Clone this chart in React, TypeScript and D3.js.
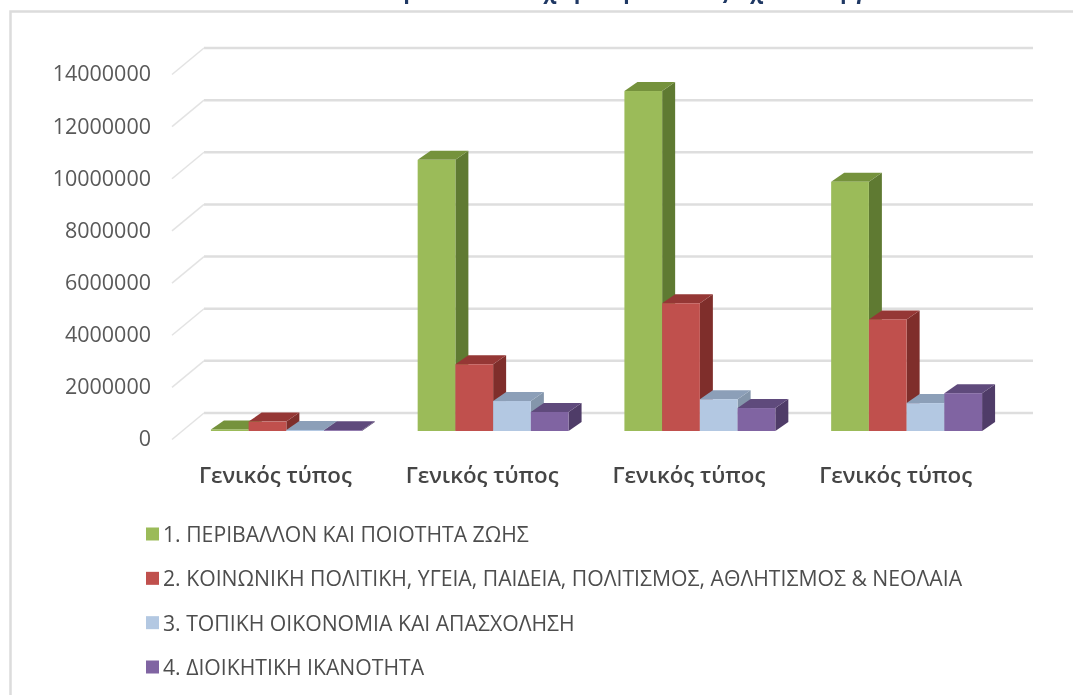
import React, { useEffect, useRef } from 'react';
import * as d3 from 'd3';

// values
const categories = ['Γενικός τύπος ', 'Γενικός τύπος  ', 'Γενικός τύπος   ', 'Γενικός τύπος    '];
const seriesNames = [
  '1. ΠΕΡΙΒΑΛΛΟΝ ΚΑΙ ΠΟΙΟΤΗΤΑ ΖΩΗΣ',
  '2. ΚΟΙΝΩΝΙΚΗ ΠΟΛΙΤΙΚΗ, ΥΓΕΙΑ, ΠΑΙΔΕΙΑ, ΠΟΛΙΤΙΣΜΟΣ, ΑΘΛΗΤΙΣΜΟΣ & ΝΕΟΛΑΙΑ',
  '3. ΤΟΠΙΚΗ ΟΙΚΟΝΟΜΙΑ ΚΑΙ ΑΠΑΣΧΟΛΗΣΗ',
  '4. ΔΙΟΙΚΗΤΙΚΗ ΙΚΑΝΟΤΗΤΑ',
];
const environment = [60000, 10400000, 13040000, 9560000];
const social = [360000, 2560000, 4900000, 4280000];
const economy = [40000, 1150000, 1220000, 1070000];
const admin = [30000, 730000, 880000, 1450000];
const seriesValues = [environment, social, economy, admin];
const yTicks = [0, 2000000, 4000000, 6000000, 8000000, 10000000, 12000000, 14000000];

const frontColors = ['#9bbb59', '#c0504d', '#b3c8e2', '#8064a2'];
const topColors = ['#75923c', '#953735', '#8c9fb8', '#5f4a7c'];
const sideColors = ['#5f7a32', '#7f2e2b', '#8496ab', '#4f3c68'];

// only the bottom of the title is in the picture, the words above it are a guess
const title = 'Πρόσοδοι των χωρών μετά τους 4 χιλίων έργων';
const font = '"Open Sans", "Noto Sans", sans-serif';

const App = () => {
  const ref = useRef<SVGSVGElement>(null);

  useEffect(() => {
    const svg = d3.select(ref.current)
      .attr('width', 1073)
      .attr('height', 695)
      .style('position', 'absolute')
      .style('left', 0)
      .style('top', 0)
      .style('background-color', '#fff')
      .style('filter', 'blur(0.5px)');
    svg.selectAll('*').remove();

    // back wall scale
    const yScale = d3.scaleLinear().domain([0, 14000000]).range([413, 48]);
    const xScale = d3.scaleBand<string>()
      .domain(categories)
      .range([183, 1010])
      .paddingInner(0.27)
      .paddingOuter(0.135);
    const barScale = d3.scaleBand<number>()
      .domain([0, 1, 2, 3])
      .range([0, xScale.bandwidth()]);

    // outer frame
    svg.append('path')
      .attr('d', 'M10.5,695V11.5H1073')
      .attr('fill', 'none')
      .attr('stroke', '#dcdcdc')
      .attr('stroke-width', 2.5);

    // title, cut by the top of the picture
    svg.append('text')
      .attr('x', 388)
      .attr('y', -1)
      .attr('font-family', font)
      .attr('font-size', 21)
      .attr('font-weight', 700)
      .attr('fill', '#1f3864')
      .text(title);

    // grid lines with the floor/wall diagonal
    const wallDx = -32;
    const wallDy = 26.5;
    const grid = svg.append('g');
    grid.selectAll('.grid')
      .data(yTicks)
      .enter()
      .append('path')
      .attr('fill', 'none')
      .attr('stroke', '#dedede')
      .attr('stroke-width', 2.5)
      .attr('d', d => `M204,${yScale(d)}H1033`);
    grid.selectAll('.diag')
      .data(yTicks)
      .enter()
      .append('path')
      .attr('fill', 'none')
      .attr('stroke', '#e3e3e3')
      .attr('stroke-width', 1.5)
      .attr('d', d => `M204,${yScale(d)}L${204 + wallDx},${yScale(d) + wallDy}`);

    // y axis labels
    const axis = svg.append('g')
      .attr('transform', 'translate(151,26)')
      .call(d3.axisLeft(yScale).tickValues(yTicks).tickSize(0).tickPadding(0).tickFormat(d3.format('d')));
    axis.select('.domain').remove();
    axis.selectAll('text')
      .attr('font-family', font)
      .attr('font-size', 21.5)
      .attr('fill', '#595959');

    // 3d bars, the front plane sits 18px below the back wall
    const frontDy = 18;
    const depthX = 13;
    const depthY = 9;
    seriesValues.forEach((values, s) => {
      const bars = svg.append('g');
      values.forEach((v, i) => {
        const x0 = xScale(categories[i])! + barScale(s)!;
        const x1 = x0 + barScale.bandwidth();
        const yBase = yScale(0) + frontDy;
        const yTop = yScale(v) + frontDy;
        bars.append('path').attr('fill', sideColors[s])
          .attr('d', `M${x1},${yTop}L${x1 + depthX},${yTop - depthY}V${yBase - depthY}L${x1},${yBase}Z`);
        bars.append('path').attr('fill', topColors[s])
          .attr('d', `M${x0},${yTop}L${x0 + depthX},${yTop - depthY}H${x1 + depthX}L${x1},${yTop}Z`);
        bars.append('rect').attr('fill', frontColors[s])
          .attr('x', x0).attr('y', yTop)
          .attr('width', barScale.bandwidth()).attr('height', yBase - yTop);
      });
    });

    // category labels
    svg.selectAll('.cat')
      .data(categories)
      .enter()
      .append('text')
      .attr('x', d => xScale(d)! + xScale.bandwidth() / 2 - 11)
      .attr('y', 483)
      .attr('text-anchor', 'middle')
      .attr('font-family', font)
      .attr('font-size', 22.3)
      .attr('font-weight', 600)
      .attr('fill', '#454545')
      .text(d => d.trim());

    // legend
    const legendY = d3.scalePoint<string>().domain(seriesNames).range([534, 667]);
    const legend = svg.selectAll('.legend')
      .data(seriesNames)
      .enter()
      .append('g')
      .attr('transform', d => `translate(146,${legendY(d)})`);
    legend.append('rect')
      .attr('y', -6.5)
      .attr('width', 13)
      .attr('height', 13)
      .attr('fill', (_, i) => frontColors[i]);
    legend.append('text')
      .attr('x', 17)
      .attr('y', 8)
      .attr('font-family', font)
      .attr('font-size', 21.2)
      .attr('fill', '#4d4d4d')
      .text(d => d);
  }, []);

  return <svg ref={ref}></svg>;
};

export default App;
